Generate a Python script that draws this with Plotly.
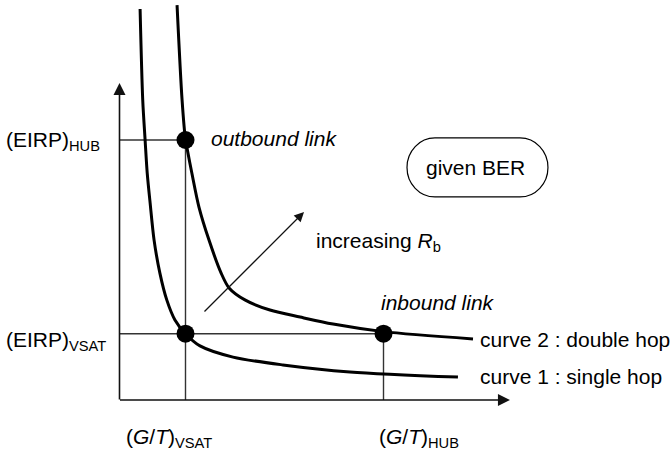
import plotly.graph_objects as go

# ---- data (arbitrary schematic units) ----
gt_vals = [2.5, 10.0]
gt_labels = ["(<i>G</i>/<i>T</i>)<sub>VSAT</sub>", "(<i>G</i>/<i>T</i>)<sub>HUB</sub>"]
eirp_vals = [2.55, 10.0]
eirp_labels = ["(EIRP)<sub>VSAT</sub>", "(EIRP)<sub>HUB</sub>"]

curve1_x = [0.78, 0.88, 0.97, 1.05, 1.16, 1.31, 1.53, 1.79, 2.10, 2.50, 3.05, 4.30, 6.19, 8.73, 12.82]
curve1_y = [15.04, 11.54, 10.0, 8.73, 7.58, 6.15, 4.88, 3.85, 3.08, 2.55, 2.08, 1.65, 1.35, 1.08, 0.88]

curve2_x = [2.18, 2.37, 2.50, 2.57, 2.74, 3.01, 3.39, 3.85, 4.15, 4.75, 5.70, 6.84, 8.09, 10.0, 13.39]
curve2_y = [15.19, 11.54, 10.0, 9.62, 8.73, 7.42, 6.15, 4.88, 4.31, 3.85, 3.46, 3.19, 2.92, 2.63, 2.35]

curve_labels = ["curve 1 : single hop", "curve 2 : double hop"]

points_x = [gt_vals[0], gt_vals[0], gt_vals[1]]
points_y = [eirp_vals[1], eirp_vals[0], eirp_vals[0]]

x_axis_end = 14.79
y_axis_end = 12.19

FONT = "Liberation Sans, Arial, Helvetica, sans-serif"
FS = 21

fig = go.Figure()

# guide lines
guide = dict(color="#333333", width=1.4)
fig.add_trace(go.Scatter(x=[0, gt_vals[0]], y=[eirp_vals[1], eirp_vals[1]], mode="lines", line=guide, hoverinfo="skip"))
fig.add_trace(go.Scatter(x=[gt_vals[0], gt_vals[0]], y=[0, eirp_vals[1]], mode="lines", line=guide, hoverinfo="skip"))
fig.add_trace(go.Scatter(x=[0, gt_vals[1]], y=[eirp_vals[0], eirp_vals[0]], mode="lines", line=guide, hoverinfo="skip"))
fig.add_trace(go.Scatter(x=[gt_vals[1], gt_vals[1]], y=[0, eirp_vals[0]], mode="lines", line=guide, hoverinfo="skip"))

# curves
fig.add_trace(go.Scatter(x=curve1_x, y=curve1_y, mode="lines",
                         line=dict(color="black", width=3, shape="spline", smoothing=0.8)))
fig.add_trace(go.Scatter(x=curve2_x, y=curve2_y, mode="lines",
                         line=dict(color="black", width=3, shape="spline", smoothing=0.8)))

# operating points
fig.add_trace(go.Scatter(x=points_x, y=points_y, mode="markers",
                         marker=dict(color="black", size=18)))

ann = []
def arrow(x0, y0, x1, y1, w):
    ann.append(dict(x=x1, y=y1, ax=x0, ay=y0, xref="x", yref="y", axref="x", ayref="y",
                    text="", showarrow=True, arrowhead=2, arrowsize=1.5, arrowwidth=w,
                    arrowcolor="#111111", standoff=0, borderpad=0))

# axes
arrow(0, 0, x_axis_end, 0, 1.6)
arrow(0, 0, 0, y_axis_end, 1.6)
# increasing Rb arrow
arr_x0, arr_y0, arr_x1, arr_y1 = 3.2, 3.385, 6.99, 7.23
arrow(arr_x0, arr_y0, arr_x1, arr_y1, 1.3)

def label(text, x, y, xanchor="left", xshift=0, yshift=0):
    ann.append(dict(x=x, y=y, xref="x", yref="y", text=text, showarrow=False,
                    xanchor=xanchor, yanchor="middle", xshift=xshift, yshift=yshift,
                    font=dict(family=FONT, size=FS, color="black")))

# tick-like labels
label(eirp_labels[0], 0, eirp_vals[0], xshift=-115.5, yshift=-7)
label(eirp_labels[1], 0, eirp_vals[1], xshift=-115.5, yshift=-1)
label(gt_labels[0], gt_vals[0], 0, xshift=-61.5, yshift=-38)
label(gt_labels[1], gt_vals[1], 0, xshift=-6.5, yshift=-38)

# point labels
label("<i>outbound link</i>", points_x[0], points_y[0], xshift=23.5, yshift=2)
label("<i>inbound link</i>", points_x[2], points_y[2], xshift=-4.5, yshift=31)

# arrow label
label("increasing <i>R</i><sub>b</sub>", arr_x1, arr_y1, xshift=10, yshift=-30)

# curve labels
label(curve_labels[0], curve1_x[-1], curve1_y[-1], xshift=20, yshift=1)
label(curve_labels[1], curve2_x[-1], curve2_y[-1], xshift=5, yshift=-1)

# "given BER" rounded box
xl, xr, yb, yt = 10.89, 16.23, 7.81, 10.08
rx = 1.06
ym = (yb + yt) / 2
ry = (yt - yb) / 2
k = 0.5523
path = (f"M {xl+rx},{yt} L {xr-rx},{yt} "
        f"C {xr-rx+k*rx},{yt} {xr},{ym+k*ry} {xr},{ym} "
        f"C {xr},{ym-k*ry} {xr-rx+k*rx},{yb} {xr-rx},{yb} "
        f"L {xl+rx},{yb} "
        f"C {xl+rx-k*rx},{yb} {xl},{ym-k*ry} {xl},{ym} "
        f"C {xl},{ym+k*ry} {xl+rx-k*rx},{yt} {xl+rx},{yt} Z")
fig.add_shape(type="path", path=path, xref="x", yref="y", line=dict(color="black", width=1.2))
ann.append(dict(x=(xl + xr) / 2, y=ym, xref="x", yref="y", text="given BER", showarrow=False,
                xanchor="center", yanchor="middle", xshift=-2,
                font=dict(family=FONT, size=FS, color="black")))

fig.update_layout(
    width=670, height=454,
    margin=dict(l=0, r=0, t=0, b=0),
    paper_bgcolor="white", plot_bgcolor="white",
    showlegend=False,
    annotations=ann,
    xaxis=dict(range=[-119.5 / 26.4, (670 - 119.5) / 26.4], visible=False, fixedrange=True),
    yaxis=dict(range=[(400 - 454) / 26.0, 400 / 26.0], visible=False, fixedrange=True),
)

fig.write_html("out.html", config={"displayModeBar": False},
               post_script="document.body.style.margin='0';document.body.style.overflow='hidden';")
